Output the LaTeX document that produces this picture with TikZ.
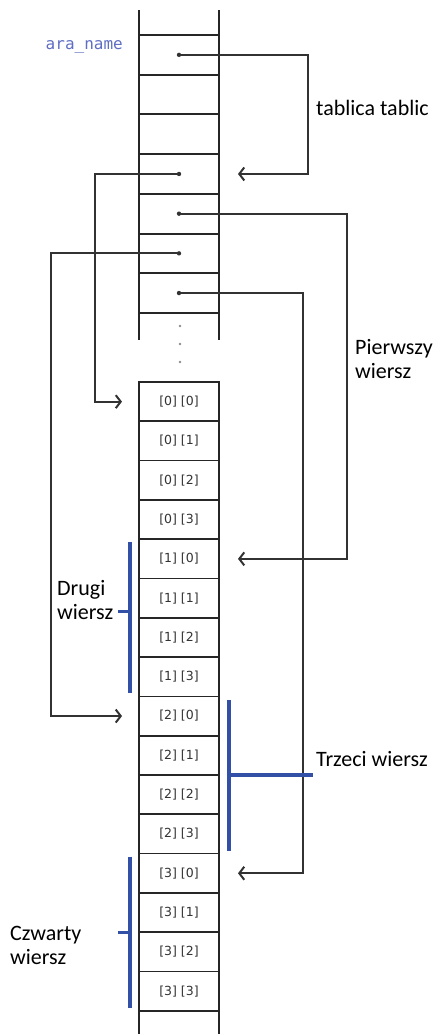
\documentclass[tikz,border=0pt]{standalone}
\usepackage{fontspec}
\setmainfont{Carlito}
\newfontfamily\cellfont{DejaVu Sans}
\newfontfamily\codefont{DejaVu Sans Mono}
\usetikzlibrary{arrows.meta, positioning}
\definecolor{wire}{RGB}{50,50,50}
\definecolor{rowblue}{RGB}{50,80,165}
\definecolor{codeblue}{RGB}{95,110,195}

\begin{document}
\begin{tikzpicture}[x=1pt, y=-1pt, node distance=0pt,
    slot/.style={draw=black!85, line width=2pt, minimum width=80pt, minimum height=39.7pt, inner sep=0pt, outer sep=0pt},
    cell/.style={draw=black!85, line width=1.7pt, minimum width=80pt, minimum height=39.3pt, inner sep=0pt, outer sep=0pt,
      font=\cellfont\fontsize{12.5}{12.5}\selectfont, text=black!80},
    arrow/.style={-{Straight Barb[length=5pt, width=13pt]}, wire, line width=2pt},
    brace/.style={rowblue, line width=3.3pt},
    note/.style={font=\fontsize{22}{24}\selectfont, align=left, inner sep=0pt}]
  \useasboundingbox (0,0) rectangle (442,1034);
  \draw[black!85, line width=2pt] (139,10) -- (139,340) (219,10) -- (219,340);
  \node[slot, anchor=north west] (t1) at (139,35) {};
  \foreach \i [count=\j from 2] in {1,...,6}
    \node[slot, below=of t\i] (t\j) {};
  \node[anchor=base east, inner sep=0pt, text=codeblue, font=\codefont\fontsize{16}{16}\selectfont] (name) at (123,49) {ara\_name};
  \foreach \y in {326,344,362}
    \fill[black!45] (180,\y) circle (1.4pt);

  \foreach \r in {0,...,3}
    \foreach \c in {0,...,3} {
      \pgfmathtruncatemacro\k{4*\r+\c}
      \node[cell, anchor=north west] (c\r\c) at (139,382+39.3*\k) {\raisebox{-6pt}{[\r] [\c]}};
    }
  \draw[black!85, line width=1.7pt] (c33.south west) -- ++(0,24) (c33.south east) -- ++(0,24);

  \foreach \t in {t1,t4,t5,t6,t7}
    \fill[wire] (\t.center) circle (2.2pt);
  \draw[arrow] (t1.center) -| ([xshift=89pt]t4.east) -- ([xshift=19pt]t4.east);
  \draw[arrow] (t4.center) -| ([xshift=-44pt]c00.west) -- ([xshift=-17pt]c00.west);
  \draw[arrow] (t5.center) -| ([xshift=128pt]c10.east) -- ([xshift=19pt]c10.east);
  \draw[arrow] (t6.center) -| ([xshift=-88pt]c20.west) -- ([xshift=-17pt]c20.west);
  \draw[arrow] (t7.center) -| ([xshift=84pt]c30.east) -- ([xshift=19pt]c30.east);

  \node[note, anchor=base west] (tabtab) at (316,115) {tablica tablic};
  \node[note, anchor=north west] (first) at (355,339) {Pierwszy\\wiersz};
  \node[note, anchor=north west] (second) at (57,580) {Drugi\\wiersz};
  \node[note, anchor=base west] (third) at (316,766) {Trzeci wiersz};
  \node[note, anchor=north west] (fourth) at (10,926) {Czwarty\\wiersz};

  \draw[brace] ([xshift=-9pt, yshift=-3pt]c10.north west) -- ([xshift=-9pt, yshift=3pt]c13.south west);
  \draw[brace] ([xshift=-9pt, yshift=6pt]c11.south west) -- ++(-12,0);
  \draw[brace] ([xshift=10pt, yshift=-4pt]c20.north east) -- ([xshift=10pt, yshift=3pt]c23.south east);
  \draw[brace] ([xshift=10pt]c21.south east) -- ([xshift=-3pt]third.west |- c21.south east);
  \draw[brace] ([xshift=-9pt, yshift=-3pt]c30.north west) -- ([xshift=-9pt, yshift=3pt]c33.south west);
  \draw[brace] ([xshift=-9pt]c31.south west) -- ++(-12,0);
\end{tikzpicture}
\end{document}
